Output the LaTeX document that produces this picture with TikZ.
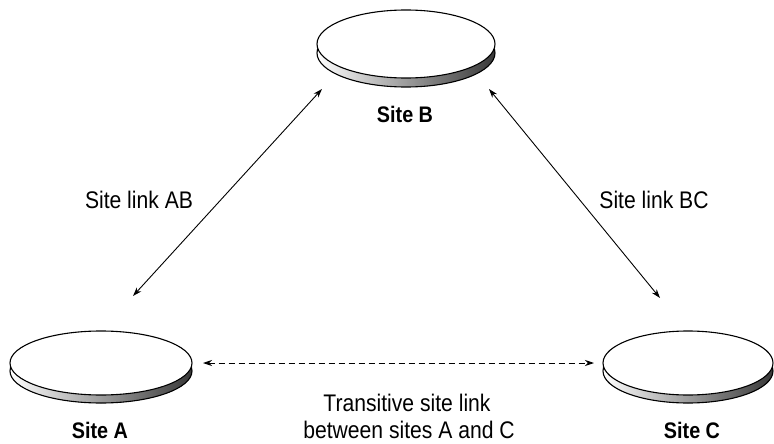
\documentclass[tikz,border=0pt]{standalone}
\usepackage{fontspec}
\setmainfont{Liberation Sans}[FakeStretch=0.88]
\usetikzlibrary{arrows.meta,shapes.geometric}
\begin{document}
\begin{tikzpicture}[x=1pt,y=-1pt,
  lbl/.style={font=\fontsize{24}{28}\selectfont, align=center, inner sep=0pt},
  sitelbl/.style={font=\fontsize{22.5}{26}\selectfont\bfseries, inner sep=0pt},
  link/.style={line width=0.9pt, {Stealth[length=9pt,width=6pt]}-{Stealth[length=9pt,width=6pt]}},
  disc/.pic={
    \fill[left color=white, right color=black!78, draw=black, line width=1.1pt] (0,\off) ellipse [x radius=\rx, y radius=\ry];
    \fill[white, draw=black, line width=1.1pt] (0,0) ellipse [x radius=\rx, y radius=\ry];
  }]
\useasboundingbox (0,0) rectangle (774,444);
% discs
\def\off{9}
\def\rx{89}\def\ry{34}
\pic at (406,44) {disc};
\node[ellipse, minimum width=178pt, minimum height=68pt] (B) at (406,44) {};
\def\off{8}
\def\rx{91}\def\ry{32}
\pic at (101,363) {disc};
\node[ellipse, minimum width=182pt, minimum height=64pt] (A) at (101,363) {};
\def\rx{85}\def\ry{32}
\pic at (688,363) {disc};
\node[ellipse, minimum width=170pt, minimum height=64pt] (C) at (688,363) {};
% labels
\node[sitelbl, anchor=base] (lB) at (405,122) {Site B};
\node[sitelbl, anchor=base] (lA) at (100,438) {Site A};
\node[sitelbl, anchor=base] (lC) at (692,438) {Site C};
\node[lbl, anchor=base] (tAB) at (139,208) {Site link AB};
\node[lbl, anchor=base] (tBC) at (654,208) {Site link BC};
\node[lbl, anchor=base] (tAC1) at (407,411) {Transitive site link};
\node[lbl, anchor=base] (tAC2) at (409,438) {between sites A and C};
% connector ends
\coordinate (a1) at (133,296);
\coordinate (b1) at (322,89);
\coordinate (b2) at (489,89);
\coordinate (c1) at (660,298);
\coordinate (a2) at (203,363);
\coordinate (c2) at (594,363);
\draw[link] (a1) -- (b1);
\draw[link] (b2) -- (c1);
\draw[link, dash pattern=on 6pt off 4pt] (a2) -- (c2);
\end{tikzpicture}
\end{document}
